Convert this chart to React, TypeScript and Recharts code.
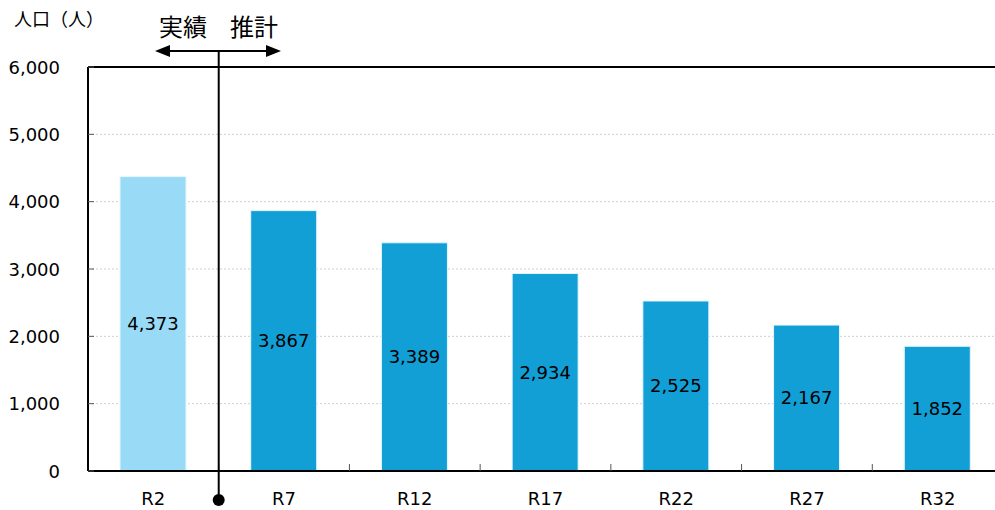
import { BarChart, Bar, XAxis, YAxis, CartesianGrid, ReferenceLine, LabelList, Cell } from "recharts";

// --- data ---
const years = ["R2", "R7", "R12", "R17", "R22", "R27", "R32"];
const population = [4373, 3867, 3389, 2934, 2525, 2167, 1852];
const yTicks = [0, 1000, 2000, 3000, 4000, 5000, 6000];

const data = years.map((year, i) => ({ year, population: population[i] }));

// --- layout ---
const CHART_W = 1005;
const CHART_H = 510;
const AXIS_W = 88;
const MARGIN = { top: 67, right: 2, left: 0, bottom: 0 };
const PLOT_LEFT = MARGIN.left + AXIS_W;
const STEP = (CHART_W - PLOT_LEFT - MARGIN.right) / years.length;
const DIVIDER_X = PLOT_LEFT + STEP; // between actual and projection

const FONT = "'DejaVu Sans', Verdana, sans-serif";
const JP_FONT = "'Noto Sans CJK JP', sans-serif";
const ACTUAL = "#99dbf6";
const PROJECTED = "#119fd6";

const YTick = ({ x, y, payload }: any) => (
  <g>
    <line x1={x} x2={x + 6} y1={y} y2={y} stroke="#555" strokeWidth={1} />
    <text x={x - 28} y={y} textAnchor="end" dominantBaseline="central" fontSize={18} fontFamily={FONT} fill="#000">
      {payload.value.toLocaleString("en-US")}
    </text>
  </g>
);

const XTick = ({ x, y, payload, index }: any) => (
  <g>
    {index > 0 && (
      <line x1={x - STEP / 2} x2={x - STEP / 2} y1={y} y2={y - 7} stroke="#555" strokeWidth={1} />
    )}
    <text x={x} y={y + 27} textAnchor="middle" dominantBaseline="central" fontSize={18} fontFamily={FONT} fill="#000">
      {payload.value}
    </text>
  </g>
);

export default function App() {
  return (
    <div style={{ position: "absolute", left: 0, top: 0, width: 995, height: 510, overflow: "hidden", background: "#fff" }}>
      <BarChart width={CHART_W} height={CHART_H} data={data} margin={MARGIN}>
        <CartesianGrid vertical={false} stroke="#d0d0d0" strokeDasharray="2 2" />
        <XAxis
          dataKey="year"
          height={39}
          axisLine={{ stroke: "#000", strokeWidth: 2 }}
          tickLine={false}
          tickSize={0}
          tickMargin={0}
          interval={0}
          tick={<XTick />}
        />
        <YAxis
          width={AXIS_W}
          domain={[0, 6000]}
          ticks={yTicks}
          interval={0}
          axisLine={{ stroke: "#000", strokeWidth: 2 }}
          tickLine={false}
          tickSize={0}
          tickMargin={0}
          tick={<YTick />}
        />
        <ReferenceLine y={6000} stroke="#000" strokeWidth={2} />
        <Bar dataKey="population" barSize={66} stroke="#e6f6fc" strokeWidth={1} isAnimationActive={false}>
          {data.map((d, i) => (
            <Cell key={d.year} fill={i === 0 ? ACTUAL : PROJECTED} />
          ))}
          <LabelList
            dataKey="population"
            position="center"
            formatter={(v: any) => Number(v).toLocaleString("en-US")}
            style={{ fontSize: 18, fontFamily: FONT, fill: "#000" }}
          />
        </Bar>
      </BarChart>

      <svg width={995} height={510} style={{ position: "absolute", left: 0, top: 0, pointerEvents: "none" }}>
        <text x={14} y={18} fontSize={18} fontFamily={JP_FONT} dominantBaseline="central" fill="#000">
          人口（人）
        </text>
        <text x={183} y={25} fontSize={24} fontFamily={JP_FONT} textAnchor="middle" dominantBaseline="central" fill="#000">
          実績
        </text>
        <text x={254} y={25} fontSize={24} fontFamily={JP_FONT} textAnchor="middle" dominantBaseline="central" fill="#000">
          推計
        </text>
        <line x1={168} x2={268} y1={51} y2={51} stroke="#000" strokeWidth={2} />
        <polygon points="155,51 170,45 170,57" fill="#000" />
        <polygon points="281,51 266,45 266,57" fill="#000" />
        <line x1={DIVIDER_X} x2={DIVIDER_X} y1={51} y2={500} stroke="#000" strokeWidth={2} />
        <circle cx={DIVIDER_X} cy={500} r={6} fill="#000" />
      </svg>
    </div>
  );
}
